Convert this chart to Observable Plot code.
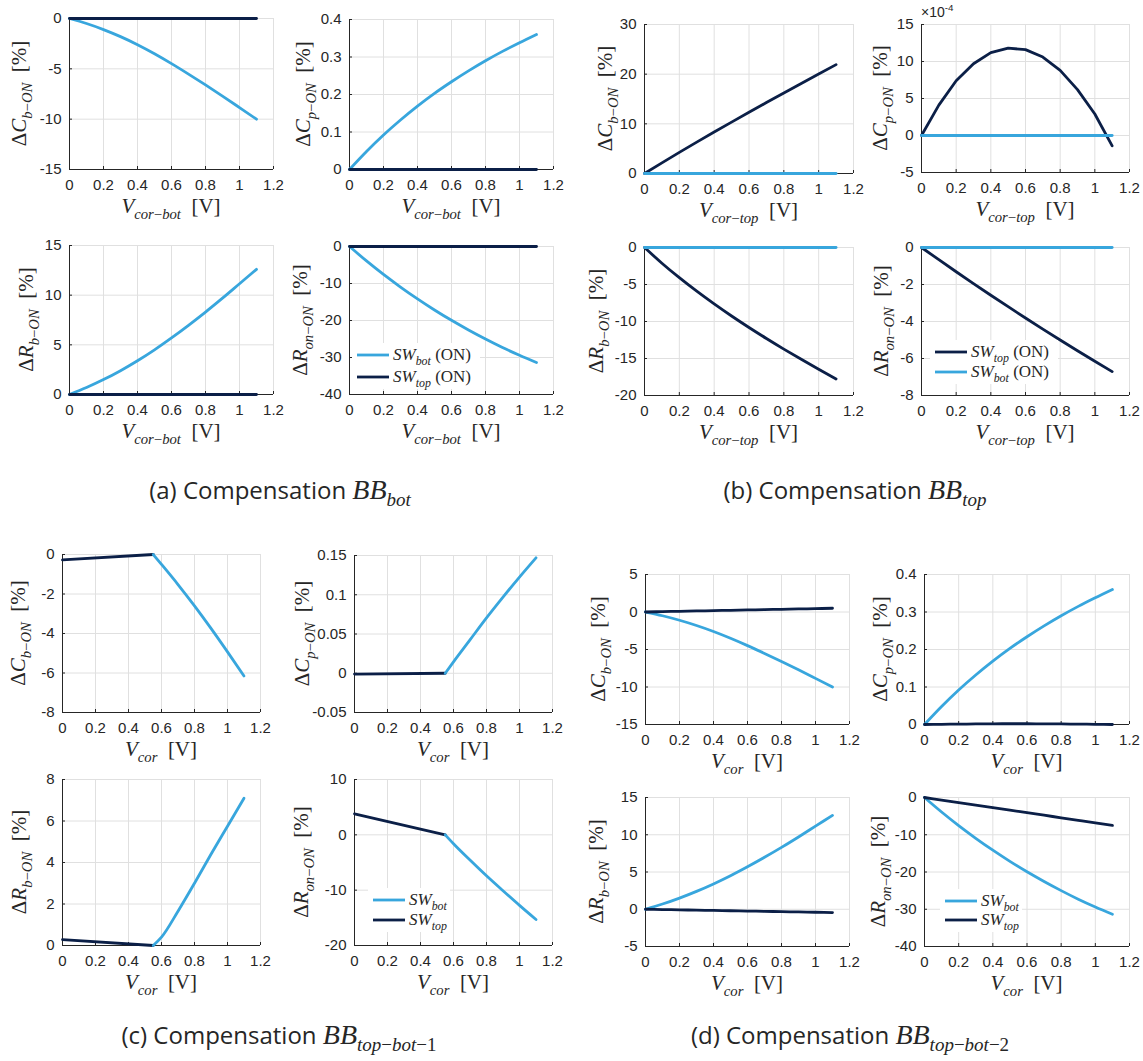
<!DOCTYPE html>
<html><head><meta charset="utf-8">
<script src="https://cdn.jsdelivr.net/npm/d3@7"></script>
<script src="https://cdn.jsdelivr.net/npm/@observablehq/plot@0.6"></script>
<style>
body{margin:0;background:#fff;}
#root{position:relative;width:1143px;height:1061px;overflow:hidden;background:#fff;}
#root svg{position:absolute;overflow:visible;}
</style></head>
<body><div id="root"></div>
<script>
// ---------------- DATA ----------------
const xTicks = [0, 0.2, 0.4, 0.6, 0.8, 1, 1.2];
const vCor = [0, 0.1, 0.2, 0.3, 0.4, 0.5, 0.6, 0.7, 0.8, 0.9, 1.0, 1.1];
const vLow = [0, 0.55];
const vHigh = [0.55, 0.6, 0.7, 0.8, 0.9, 1.0, 1.1];
const flat = [0, 0, 0, 0, 0, 0, 0, 0, 0, 0, 0, 0];

// (a) BB_bot — SW_bot varies, SW_top flat
const botCb = [0, -0.5, -1.1, -1.8, -2.6, -3.5, -4.48, -5.52, -6.6, -7.71, -8.85, -10.0];
const botCp = [0, 0.048, 0.092, 0.132, 0.169, 0.203, 0.234, 0.263, 0.29, 0.315, 0.338, 0.36];
const botRb = [0, 0.7, 1.5, 2.4, 3.4, 4.5, 5.7, 6.97, 8.3, 9.7, 11.15, 12.6];
const botRon = [0, -3.9, -7.55, -10.95, -14.15, -17.15, -19.95, -22.55, -25.0, -27.3, -29.4, -31.35];

// (b) BB_top — SW_top varies, SW_bot flat (Cp in units of 1e-4)
const topCb = [0, 2.15, 4.25, 6.31, 8.34, 10.34, 12.32, 14.28, 16.22, 18.14, 20.04, 21.92];
const topCp = [0, 4.1, 7.4, 9.7, 11.2, 11.8, 11.6, 10.6, 8.8, 6.2, 2.9, -1.4];
const topRb = [0, -2.12, -4.08, -5.91, -7.63, -9.26, -10.81, -12.3, -13.73, -15.11, -16.45, -17.76];
const topRon = [0, -0.66, -1.31, -1.95, -2.58, -3.2, -3.81, -4.41, -5.0, -5.58, -6.15, -6.71];

// (c) BB_top-bot-1 — SW_top below 0.55 V, SW_bot above
const c1Top = [-0.27, 0];
const c1Bot = [0, -0.5, -1.52, -2.6, -3.74, -4.93, -6.15];
const c2Top = [-0.001, 0];
const c2Bot = [0, 0.0145, 0.0425, 0.0705, 0.097, 0.1225, 0.147];
const c3Top = [0.28, 0];
const c3Bot = [0, 0.4, 1.65, 3.0, 4.4, 5.75, 7.1];
const c4Top = [3.8, 0];
const c4Bot = [0, -1.6, -4.55, -7.4, -10.1, -12.75, -15.3];

// (d) BB_top-bot-2 — SW_bot as in (a), SW_top small
const dCbTop = [0, 0.05, 0.09, 0.14, 0.18, 0.23, 0.27, 0.32, 0.36, 0.41, 0.45, 0.5];
const dCpTop = [0, 0.0005, 0.001, 0.0015, 0.0018, 0.002, 0.002, 0.0018, 0.0015, 0.001, 0.0005, 0];
const dRbTop = [0, -0.04, -0.08, -0.12, -0.16, -0.2, -0.24, -0.28, -0.32, -0.36, -0.4, -0.44];
const dRonTop = [0, -0.68, -1.36, -2.04, -2.72, -3.4, -4.08, -4.76, -5.44, -6.12, -6.8, -7.5];

// y tick lists
const yT = {
  a1: [-15, -10, -5, 0], a2: [0, 0.1, 0.2, 0.3, 0.4], a3: [0, 5, 10, 15], a4: [-40, -30, -20, -10, 0],
  b1: [0, 10, 20, 30], b2: [-5, 0, 5, 10, 15], b3: [-20, -15, -10, -5, 0], b4: [-8, -6, -4, -2, 0],
  c1: [-8, -6, -4, -2, 0], c2: [-0.05, 0, 0.05, 0.1, 0.15], c3: [0, 2, 4, 6, 8], c4: [-20, -10, 0, 10],
  d1: [-15, -10, -5, 0, 5], d2: [0, 0.1, 0.2, 0.3, 0.4], d3: [-5, 0, 5, 10, 15], d4: [-40, -30, -20, -10, 0]
};

// ---------------- STYLE ----------------
const LIGHT = "#38a6dd", DARK = "#0b1f47", GRID = "#e0e0e0", AX = "#262626";
const SANS = "'Liberation Sans', Arial, sans-serif";
const SERIF = "'Liberation Serif', 'Times New Roman', serif";
const CAP = "'Open Sans', 'Noto Sans', sans-serif";

const S = (x, y, c, curve = "monotone-x") => ({x, y, c, curve});
const panels = [
  {id:"a1", box:[69,18,273,169], yo:43, q:"C", s:"b", xs:"bot", series:[S(vCor,botCb,LIGHT), S(vCor,flat,DARK)]},
  {id:"a2", box:[349,19,553,169], yo:39, q:"C", s:"p", xs:"bot", series:[S(vCor,botCp,LIGHT), S(vCor,flat,DARK)]},
  {id:"a3", box:[69,245,273,394], yo:36, q:"R", s:"b", xs:"bot", series:[S(vCor,botRb,LIGHT), S(vCor,flat,DARK)]},
  {id:"a4", box:[349,246,553,394], yo:42, q:"R", s:"on", xs:"bot", series:[S(vCor,botRon,LIGHT), S(vCor,flat,DARK)]},
  {id:"b1", box:[644,24,853,173], yo:32, q:"C", s:"b", xs:"top", series:[S(vCor,topCb,DARK), S(vCor,flat,LIGHT)]},
  {id:"b2", box:[921,24,1129,172], yo:34, q:"C", s:"p", xs:"top", series:[S(vCor,topCp,DARK,"linear"), S(vCor,flat,LIGHT)]},
  {id:"b3", box:[644,247,853,395], yo:41, q:"R", s:"b", xs:"top", series:[S(vCor,topRb,DARK), S(vCor,flat,LIGHT)]},
  {id:"b4", box:[921,247,1129,395], yo:33, q:"R", s:"on", xs:"top", series:[S(vCor,topRon,DARK), S(vCor,flat,LIGHT)]},
  {id:"c1", box:[62,554,260,712], yo:37, q:"C", s:"b", xs:null, series:[S(vLow,c1Top,DARK), S(vHigh,c1Bot,LIGHT)]},
  {id:"c2", box:[354,555,552,712], yo:45, q:"C", s:"p", xs:null, series:[S(vLow,c2Top,DARK), S(vHigh,c2Bot,LIGHT)]},
  {id:"c3", box:[62,779,260,945], yo:36, q:"R", s:"b", xs:null, series:[S(vLow,c3Top,DARK), S(vHigh,c3Bot,LIGHT)]},
  {id:"c4", box:[354,779,552,945], yo:46, q:"R", s:"on", xs:null, series:[S(vLow,c4Top,DARK), S(vHigh,c4Bot,LIGHT)]},
  {id:"d1", box:[645,574,849,724], yo:40, q:"C", s:"b", xs:null, series:[S(vCor,botCb,LIGHT), S(vCor,dCbTop,DARK)]},
  {id:"d2", box:[924,574,1129,724], yo:37, q:"C", s:"p", xs:null, series:[S(vCor,botCp,LIGHT), S(vCor,dCpTop,DARK)]},
  {id:"d3", box:[645,797,849,946], yo:42, q:"R", s:"b", xs:null, series:[S(vCor,botRb,LIGHT), S(vCor,dRbTop,DARK)]},
  {id:"d4", box:[924,797,1129,946], yo:39, q:"R", s:"on", xs:null, series:[S(vCor,botRon,LIGHT), S(vCor,dRonTop,DARK)]}
];

const root = document.getElementById("root");
const fmt = d => String(d);

for (const p of panels) {
  const [x0, y0, x1, y1] = p.box;
  const iw = x1 - x0, ih = y1 - y0;
  const mL = 60, mR = 20, mT = 12, mB = 32;
  const yt = yT[p.id];
  const marks = [
    Plot.gridX(xTicks, {stroke: GRID, strokeOpacity: 1}),
    Plot.gridY(yt, {stroke: GRID, strokeOpacity: 1}),
    Plot.ruleX(xTicks, {stroke: AX, insetTop: ih - 3}),
    Plot.ruleY(yt, {stroke: AX, insetRight: iw - 3}),
    Plot.ruleX([0], {stroke: AX}),
    Plot.ruleY([yt[0]], {stroke: AX}),
    Plot.axisX(xTicks, {tickSize: 0, tickPadding: 10, tickFormat: fmt, label: null}),
    Plot.axisY(yt, {tickSize: 0, tickPadding: 8, tickFormat: fmt, label: null}),
    ...p.series.map(s => Plot.line(s.x.map((v, i) => ({x: v, y: s.y[i]})),
        {x: "x", y: "y", stroke: s.c, strokeWidth: 2.8, curve: s.curve}))
  ];
  const svg = Plot.plot({
    width: iw + mL + mR, height: ih + mT + mB,
    marginLeft: mL, marginRight: mR, marginTop: mT, marginBottom: mB,
    x: {domain: [0, 1.2], label: null}, y: {domain: [yt[0], yt[yt.length - 1]], label: null},
    style: {fontFamily: SANS, fontSize: "15px", color: AX, background: "transparent", overflow: "visible"},
    marks
  });
  svg.style.left = (x0 - mL) + "px";
  svg.style.top = (y0 - mT) + "px";
  root.appendChild(svg);
}

// ---------------- OVERLAY TEXT ----------------
const ns = "http://www.w3.org/2000/svg";
const ov = document.createElementNS(ns, "svg");
ov.setAttribute("width", 1143); ov.setAttribute("height", 1061);
ov.style.left = "0px"; ov.style.top = "0px";
root.appendChild(ov);

function mtext(x, y, parts, {size = 21, rotate = false, anchor = "middle", family = SERIF} = {}) {
  const t = document.createElementNS(ns, "text");
  t.setAttribute("x", x); t.setAttribute("y", y);
  t.setAttribute("text-anchor", anchor);
  t.setAttribute("fill", AX);
  t.setAttribute("font-family", family);
  t.style.whiteSpace = "pre";
  if (rotate) t.setAttribute("transform", `rotate(-90 ${x} ${y})`);
  let shift = 0;
  for (const q of parts) {
    const s = document.createElementNS(ns, "tspan");
    s.textContent = q.t;
    let target = 0, fs = size;
    if (q.sub) { target = size * 0.28; fs = size * 0.7; }
    if (q.sup) { target = -size * 0.42; fs = size * 0.7; }
    s.setAttribute("dy", (target - shift).toFixed(2));
    shift = target;
    s.setAttribute("font-size", (q.fs || fs).toFixed(2));
    if (q.i) s.setAttribute("font-style", "italic");
    if (q.f) s.setAttribute("font-family", q.f);
    t.appendChild(s);
  }
  ov.appendChild(t);
  return t;
}

for (const p of panels) {
  const [x0, y0, x1, y1] = p.box;
  mtext(x0 - p.yo, (y0 + y1) / 2, [
    {t: "Δ"}, {t: p.q, i: true},
    {t: p.s, sub: true, i: true}, {t: "−", sub: true}, {t: "ON", sub: true, i: true},
    {t: "  [%]"}
  ], {rotate: true});
  const xparts = [{t: "V", i: true}, {t: "cor", sub: true, i: true}];
  if (p.xs) { xparts.push({t: "−", sub: true}); xparts.push({t: p.xs, sub: true, i: true}); }
  xparts.push({t: "  [V]"});
  mtext((x0 + x1) / 2, y1 + 44, xparts);
}

// exponent label of (b) ΔC_p
mtext(921, 17, [{t: "×10"}, {t: "-4", sup: true}], {size: 14, anchor: "start", family: SANS});

// legends
function legend(x, ys, items) {
  const rect = document.createElementNS(ns, "rect");
  const w = items[0].on ? 128 : 82;
  rect.setAttribute("x", x - 5); rect.setAttribute("y", ys[0] - 12);
  rect.setAttribute("width", w); rect.setAttribute("height", ys[ys.length - 1] - ys[0] + 24);
  rect.setAttribute("fill", "#fff");
  ov.appendChild(rect);
  items.forEach((it, k) => {
    const ln = document.createElementNS(ns, "line");
    ln.setAttribute("x1", x); ln.setAttribute("x2", x + 32);
    ln.setAttribute("y1", ys[k]); ln.setAttribute("y2", ys[k]);
    ln.setAttribute("stroke", it.c); ln.setAttribute("stroke-width", 2.8);
    ov.appendChild(ln);
    const parts = [{t: "SW", i: true}, {t: it.n, sub: true, i: true}];
    if (it.on) parts.push({t: " (ON)"});
    mtext(x + 36, ys[k] + 5, parts, {size: 17, anchor: "start"});
  });
}
legend(357, [355, 377], [{c: LIGHT, n: "bot", on: true}, {c: DARK, n: "top", on: true}]);
legend(935, [352, 372], [{c: DARK, n: "top", on: true}, {c: LIGHT, n: "bot", on: true}]);
legend(373, [900, 920], [{c: LIGHT, n: "bot"}, {c: DARK, n: "top"}]);
legend(945, [901, 920], [{c: LIGHT, n: "bot"}, {c: DARK, n: "top"}]);

// captions
function caption(x, y, letter, subParts) {
  mtext(x, y, [
    {t: `(${letter}) Compensation `, f: CAP, fs: 24},
    {t: "BB", i: true, fs: 28},
    ...subParts.map(s => ({...s, sub: true, fs: 19}))
  ], {size: 26});
}
caption(280, 499, "a", [{t: "bot", i: true}]);
caption(855, 499, "b", [{t: "top", i: true}]);
caption(279, 1044, "c", [{t: "top", i: true}, {t: "−"}, {t: "bot", i: true}, {t: "−1"}]);
caption(850, 1044, "d", [{t: "top", i: true}, {t: "−"}, {t: "bot", i: true}, {t: "−2"}]);
</script>
</body></html>
